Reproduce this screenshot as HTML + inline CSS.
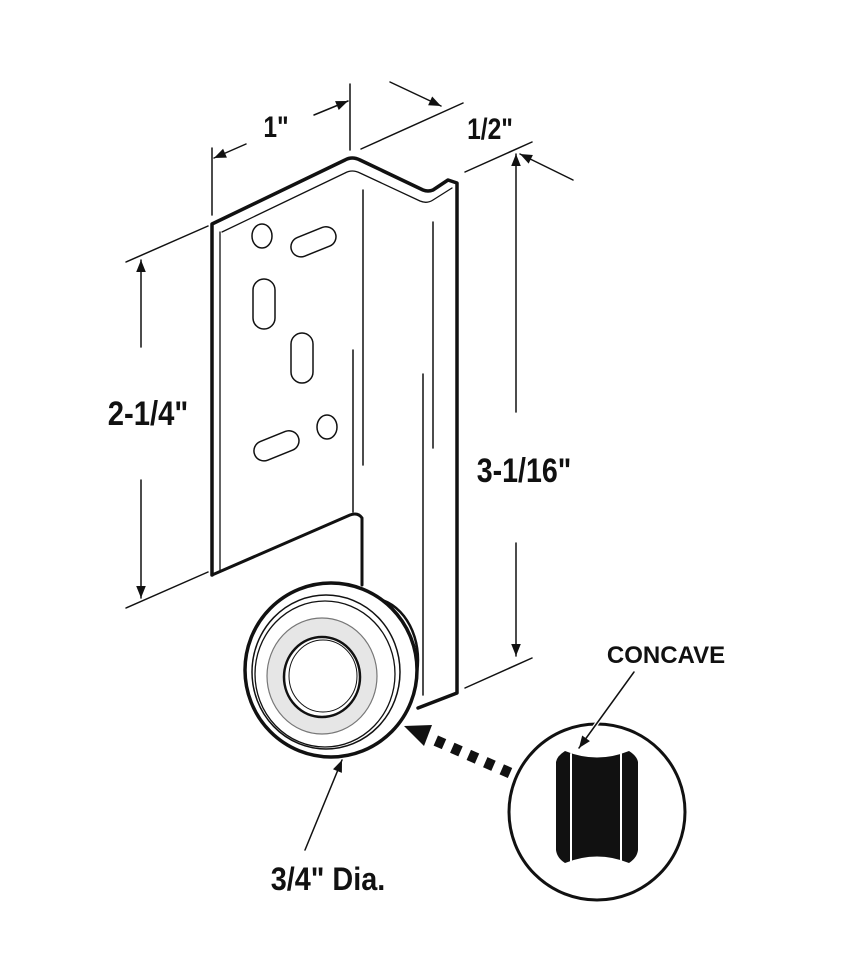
<!DOCTYPE html>
<html><head><meta charset="utf-8"><style>
html,body{margin:0;padding:0;background:#fff}
svg{display:block}
text{font-family:"Liberation Sans",sans-serif;font-weight:bold;fill:#111}
</style></head><body>
<svg width="843" height="960" viewBox="0 0 843 960" xmlns="http://www.w3.org/2000/svg">
<defs>
<marker id="ah" viewBox="0 0 10 10" refX="10" refY="5" markerWidth="16" markerHeight="12" markerUnits="userSpaceOnUse" orient="auto"><path d="M0,1 L10,5 L0,9 Z" fill="#111"/></marker>
</defs>
<g stroke="#111" fill="none" stroke-linecap="round" stroke-linejoin="round">
<path d="M212,575 L212,224 L345,160 Q352,156 360,160 L423,190 Q428,192 433,190 L448,180 L457,183 L457,693 L418,708" stroke-width="3.5" fill="#fff"/>
<path d="M222,232 L345,173 Q352,169 360,173 L420,201 Q427,204 433,200 L452,188" stroke-width="1.3"/>
<path d="M220,232 L220,570" stroke-width="1.3"/>
<path d="M212,575 L350,515 Q358,512 362,518 L362,585" stroke-width="3"/>
<line x1="363" y1="190" x2="363" y2="465" stroke-width="1.5"/>
<line x1="353" y1="350" x2="353" y2="512" stroke-width="1.5"/>
<line x1="433" y1="222" x2="433" y2="448" stroke-width="1.5"/>
<line x1="423" y1="374" x2="423" y2="695" stroke-width="1.5"/>
<ellipse cx="262" cy="236" rx="10" ry="12" stroke-width="1.5"/>
<ellipse cx="327" cy="427" rx="10" ry="12" stroke-width="1.5"/>
<rect x="290" y="232" width="47" height="20" rx="10" transform="rotate(-22 313 242)" stroke-width="1.5"/>
<rect x="253" y="436" width="47" height="20" rx="10" transform="rotate(-22 276 446)" stroke-width="1.5"/>
<rect x="253" y="279" width="22" height="50" rx="11" stroke-width="1.5"/>
<rect x="291" y="333" width="22" height="50" rx="11" stroke-width="1.5"/>
<ellipse cx="370" cy="660" rx="48" ry="62" fill="#fff" stroke-width="2.5"/>
<ellipse cx="331" cy="670" rx="86" ry="87" fill="#fff" stroke-width="3.5"/>
<ellipse cx="326" cy="672" rx="74" ry="77" stroke-width="1.5"/>
<ellipse cx="325" cy="674" rx="70" ry="73" stroke-width="1.3"/>
<ellipse cx="322" cy="676" rx="55" ry="58" fill="#e6e6e6" stroke="#777" stroke-width="1.2"/>
<ellipse cx="322" cy="677" rx="38" ry="40" fill="#fff" stroke-width="2.5"/>
<ellipse cx="323" cy="676" rx="34" ry="36" stroke-width="1"/>
<line x1="212" y1="148" x2="212" y2="215" stroke-width="1.5"/>
<line x1="350" y1="84" x2="350" y2="150" stroke-width="1.5"/>
<line x1="246" y1="144" x2="214" y2="158" stroke-width="1.5" marker-end="url(#ah)"/>
<line x1="314" y1="115" x2="348" y2="101" stroke-width="1.5" marker-end="url(#ah)"/>
<line x1="361" y1="149" x2="463" y2="103" stroke-width="1.5"/>
<line x1="465" y1="172" x2="532" y2="142" stroke-width="1.5"/>
<line x1="390" y1="82" x2="441" y2="106" stroke-width="1.5" marker-end="url(#ah)"/>
<line x1="573" y1="180" x2="520" y2="154" stroke-width="1.5" marker-end="url(#ah)"/>
<line x1="516" y1="412" x2="516" y2="154" stroke-width="1.5" marker-end="url(#ah)"/>
<line x1="516" y1="543" x2="516" y2="656" stroke-width="1.5" marker-end="url(#ah)"/>
<line x1="465" y1="688" x2="532" y2="658" stroke-width="1.5"/>
<line x1="126" y1="262" x2="208" y2="226" stroke-width="1.5"/>
<line x1="126" y1="608" x2="208" y2="572" stroke-width="1.5"/>
<line x1="141" y1="347" x2="141" y2="260" stroke-width="1.5" marker-end="url(#ah)"/>
<line x1="141" y1="480" x2="141" y2="598" stroke-width="1.5" marker-end="url(#ah)"/>
<line x1="305" y1="850" x2="342" y2="760" stroke-width="1.5" marker-end="url(#ah)"/>
<line x1="510" y1="773" x2="430" y2="738" stroke-width="11" stroke-dasharray="9,9" stroke-linecap="butt"/>
<path d="M404,726 L432,725 L424,746 Z" fill="#111" stroke="none"/>
<circle cx="597" cy="812" r="88" fill="#fff" stroke-width="3"/>
<path d="M556,762 L556,850 Q557,858 565,863 Q597,850 629,863 Q637,858 638,850 L638,762 Q637,756 629,751 Q597,764 565,751 Q557,756 556,762 Z" fill="#111" stroke="none"/>
<line x1="571" y1="754" x2="571" y2="861" stroke="#fff" stroke-width="2"/>
<line x1="621" y1="754" x2="621" y2="861" stroke="#fff" stroke-width="2"/>
<line x1="634" y1="672" x2="579" y2="748" stroke="#fff" stroke-width="4"/>
<line x1="634" y1="672" x2="579" y2="748" stroke-width="1.5" marker-end="url(#ah)"/>
</g>
<text transform="translate(276,137) scale(0.82,1)" font-size="30" text-anchor="middle">1"</text>
<text transform="translate(490,139) scale(0.82,1)" font-size="30" text-anchor="middle">1/2"</text>
<text transform="translate(524,482) scale(0.84,1)" font-size="34" text-anchor="middle">3-1/16"</text>
<text transform="translate(148,425) scale(0.86,1)" font-size="34" text-anchor="middle">2-1/4"</text>
<text transform="translate(328,890) scale(0.9,1)" font-size="32" text-anchor="middle">3/4" Dia.</text>
<text x="666" y="663" font-size="24" text-anchor="middle">CONCAVE</text>
</svg>
</body></html>
